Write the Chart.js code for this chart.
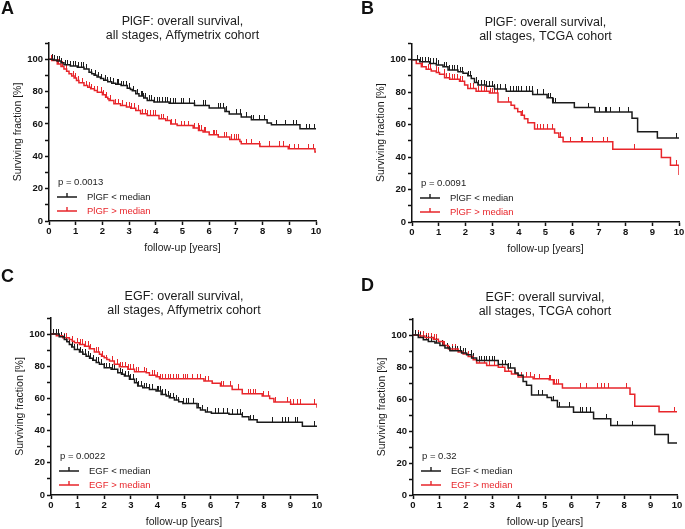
<!DOCTYPE html>
<html>
<head>
<meta charset="utf-8">
<title>PlGF / EGF overall survival</title>
<script src="https://cdn.jsdelivr.net/npm/chart.js@4.4.1/dist/chart.umd.min.js"></script>
<style>
  html, body { margin: 0; padding: 0; background: #fff; }
  #wrap { position: relative; width: 685px; height: 529px; overflow: hidden; }
  #wrap canvas { position: absolute; left: 0; top: 0; }
</style>
</head>
<body>
<div id="wrap">
  <canvas id="panelA" width="685" height="529"></canvas>
  <canvas id="panelB" width="685" height="529"></canvas>
  <canvas id="panelC" width="685" height="529"></canvas>
  <canvas id="panelD" width="685" height="529"></canvas>
</div>
<script>
// Axis tick labels
const xTickLabels = [0, 1, 2, 3, 4, 5, 6, 7, 8, 9, 10];
const yTickLabels = [0, 20, 40, 60, 80, 100];

// Kaplan-Meier steps: [years, surviving %] after each drop
// A: PlGF, Affymetrix cohort
const plgfAffyLow = [[0,100],[0.15,99.5],[0.3,98.8],[0.45,97.8],[0.56,96.5],[0.8,95.8],[1.06,95],[1.31,94],[1.5,92],[1.6,91],[1.69,90],[1.8,89],[1.93,88],[2.05,87],[2.2,86],[2.35,85.2],[2.5,84.5],[2.7,83.7],[2.93,82],[3.05,81.2],[3.12,80.5],[3.25,78.6],[3.37,77.2],[3.55,76],[3.68,74.5],[3.93,73.5],[4.5,72.8],[5.45,71.4],[6.0,69.8],[6.59,67.7],[6.75,66.2],[7.2,64.2],[7.58,62.5],[8.17,60.5],[8.33,59.5],[9.4,57],[10,57]];
const plgfAffyHigh = [[0,100],[0.1,99.2],[0.31,97],[0.45,95.5],[0.56,94],[0.66,92.5],[0.75,91],[0.85,89.6],[0.94,88.3],[1.03,86.8],[1.12,85.4],[1.31,83.7],[1.45,82.6],[1.56,81.7],[1.7,80.6],[1.81,79.6],[2.0,78],[2.12,76.5],[2.2,75.5],[2.25,74.5],[2.43,72.4],[2.68,71.4],[2.9,70.5],[3.06,69.7],[3.25,68.3],[3.43,66.3],[3.68,65.2],[4.12,63.2],[4.37,62.1],[4.56,60],[4.8,59],[5.4,57.4],[5.6,56],[5.77,55],[6.0,53.3],[6.34,51.9],[6.77,50.4],[7.15,49.2],[7.2,47.7],[7.9,46.1],[8.96,44.6],[9.96,42.6],[10,42.6]];
const plgfAffyLowCens = [0.12,0.22,0.3,0.38,0.45,0.6,0.7,0.8,0.9,1.0,1.1,1.2,1.3,1.42,1.6,1.75,1.85,1.95,2.1,2.2,2.3,2.4,2.55,2.6,2.7,2.8,2.9,3.0,3.15,3.3,3.45,3.5,3.55,3.6,3.75,3.85,3.95,4.05,4.15,4.25,4.35,4.45,4.55,4.65,4.75,4.97,5.02,5.27,5.46,5.77,5.87,6.34,6.42,6.52,6.65,7.02,7.17,7.4,7.58,7.67,7.9,8.08,8.52,8.87,9.14,9.27,9.64,9.77,9.96];
const plgfAffyHighCens = [0.1,0.2,0.35,0.5,0.65,0.9,1.0,1.1,1.25,1.4,1.5,1.6,1.7,1.8,1.95,2.05,2.15,2.3,2.5,2.6,2.75,2.9,3.0,3.1,3.2,3.35,3.5,3.6,3.7,3.8,3.9,4.0,4.2,4.3,4.45,4.6,4.75,4.96,5.09,5.21,5.46,5.59,5.65,5.71,5.84,5.87,6.15,6.21,6.27,6.59,6.65,6.84,6.96,7.02,7.09,7.4,7.59,7.9,8.27,8.65,8.77,9.02,9.21,9.33,9.71,9.9];

// B: PlGF, TCGA cohort
const plgfTcgaLow = [[0,100],[0.29,98.8],[0.66,97.7],[0.91,96.7],[1.16,95.7],[1.35,93.6],[1.72,92.6],[1.91,91.6],[2.09,90.1],[2.22,88.5],[2.34,86],[2.47,84.4],[2.78,83.7],[3.09,81.9],[3.53,80.6],[4.52,78.6],[5.06,76.5],[5.27,73.5],[6.08,70.5],[6.85,67.8],[8.24,64],[8.45,55.6],[9.19,51.8],[10,51.8]];
const plgfTcgaHigh = [[0,100],[0.16,97.7],[0.35,95.7],[0.53,94.2],[0.72,93],[0.91,92.2],[1.03,91],[1.22,88.9],[1.41,88],[1.78,86.8],[1.97,84.4],[2.09,82.3],[2.4,80.6],[2.9,79.5],[3.22,74],[3.71,72],[3.84,70],[3.96,68],[4.09,65.8],[4.21,63.7],[4.34,61.2],[4.59,57.3],[5.34,54.8],[5.5,52.3],[5.66,49.5],[7.52,44.8],[9.34,39.8],[9.68,34.9],[10,29]];
const plgfTcgaLowCens = [0.2,0.3,0.4,0.5,0.6,0.7,0.8,0.9,1.0,1.2,1.3,1.4,1.5,1.6,1.7,1.8,1.9,2.1,2.2,2.4,2.5,2.6,2.7,2.8,2.9,3.0,3.1,3.2,3.3,3.5,3.7,3.8,3.9,4.0,4.1,4.3,4.4,4.5,4.7,4.94,5.1,5.19,5.31,5.37,6.6,7.02,7.24,7.28,7.43,7.77,8.09,9.92];
const plgfTcgaHighCens = [0.4,0.6,0.7,0.9,1.0,1.2,1.3,1.4,1.5,1.6,1.7,1.8,1.9,2.2,2.3,2.5,2.6,2.7,2.8,2.95,3.0,3.1,3.2,3.6,4.15,4.6,4.7,4.8,4.91,5.06,5.25,5.56,5.94,6.35,6.4,6.77,7.18,7.34,8.34,9.92];

// C: EGF, Affymetrix cohort
const egfAffyLow = [[0,100],[0.31,98.4],[0.5,96.7],[0.6,95.2],[0.69,93.6],[0.78,92],[0.88,90.5],[1.07,88.8],[1.2,87.5],[1.32,86.3],[1.45,85],[1.57,83.7],[1.7,82.4],[1.82,81.2],[2.0,79.1],[2.26,78.1],[2.51,76],[2.65,75],[2.76,73.9],[2.95,71.9],[3.14,69.8],[3.26,67.7],[3.45,66.7],[3.7,65.6],[3.95,64.6],[4.14,62.5],[4.33,61.5],[4.45,60.4],[4.64,59],[4.8,58],[4.96,56.9],[5.49,54.3],[5.62,52.8],[5.81,51.6],[6.03,50.8],[6.69,50.2],[7.19,48.7],[7.44,46.8],[7.75,45.2],[9.45,42.7],[10,42.7]];
const egfAffyHigh = [[0,100],[0.2,99],[0.44,97.7],[0.69,96.7],[0.8,95.5],[0.88,94.6],[1.07,93.6],[1.26,92.5],[1.44,90.9],[1.63,88.8],[1.82,87.4],[1.9,86.3],[2.0,85.3],[2.1,84.2],[2.2,83.2],[2.38,81.2],[2.57,79.7],[2.89,78.1],[3.14,76.6],[3.58,76],[3.7,74.4],[3.95,73.5],[4.08,72.3],[5.75,70.9],[6.06,69.4],[6.37,67.8],[6.81,65.6],[7.19,63],[7.94,61.5],[8.22,59.9],[8.38,57.8],[9.01,56.4],[10,54.3]];
const egfAffyLowCens = [0.1,0.2,0.3,0.4,0.5,0.6,0.7,0.8,0.9,1.0,1.1,1.2,1.3,1.4,1.5,1.6,1.7,1.8,1.9,2.0,2.1,2.2,2.3,2.4,2.6,2.7,2.8,2.9,3.0,3.1,3.2,3.3,3.4,3.5,3.6,3.7,3.8,4.0,4.05,4.1,4.2,4.3,4.4,4.5,4.6,4.7,4.8,4.99,5.08,5.18,5.37,5.56,5.68,5.87,6.18,6.31,6.5,6.62,6.81,7.0,7.13,7.19,7.5,7.63,8.32,8.69,8.82,8.94,9.2,9.26,9.89,10];
const egfAffyHighCens = [0.1,0.3,0.5,0.6,0.8,1.0,1.1,1.2,1.3,1.4,1.5,1.7,1.8,1.95,2.1,2.3,2.5,2.6,2.7,2.8,2.9,3.0,3.1,3.2,3.3,3.5,3.6,3.8,3.9,4.0,4.1,4.2,4.3,4.4,4.5,4.6,4.7,4.8,4.99,5.06,5.12,5.31,5.49,5.62,5.81,5.93,6.41,6.5,6.75,7.06,7.44,7.5,7.63,7.69,8.0,8.19,8.44,8.88,9.01,9.13,9.26,9.38,9.9];

// D: EGF, TCGA cohort
const egfTcgaLow = [[0,100],[0.2,98.5],[0.39,97.1],[0.58,96],[0.83,95],[1.02,93.5],[1.21,91.9],[1.4,90.2],[1.84,88.8],[2.03,87.7],[2.22,85.6],[2.41,84],[3.23,81.5],[3.6,79.4],[3.86,76.3],[3.98,74.8],[4.17,71],[4.3,68.6],[4.49,62.5],[5.08,61],[5.25,59],[5.47,55],[6.08,51.7],[6.84,47.7],[7.49,43.4],[9.16,37.8],[9.67,32.5],[10,32.5]];
const egfTcgaHigh = [[0,100],[0.26,99.4],[0.45,98.4],[0.77,97.4],[0.96,95.9],[1.15,93.4],[1.34,91.3],[1.71,89.4],[1.9,88.1],[2.09,86.6],[2.28,84.6],[2.41,82.5],[2.79,81],[3.23,79.8],[3.48,77.3],[3.73,75.6],[3.98,73.8],[4.55,72.6],[5.16,72],[5.32,69.4],[5.66,66.9],[8.22,63],[8.4,55.5],[9.32,52],[10,52]];
const egfTcgaLowCens = [0.1,0.2,0.3,0.4,0.5,0.6,0.7,0.9,1.1,1.3,1.4,1.5,1.6,1.7,1.8,1.9,2.0,2.2,2.3,2.5,2.6,2.7,2.8,2.9,3.0,3.1,3.4,3.5,3.6,3.7,4.74,4.9,5.32,5.54,5.92,6.33,6.42,6.58,6.74,7.34,7.74,8.31];
const egfTcgaHighCens = [0.1,0.2,0.3,0.4,0.5,0.6,0.7,0.8,0.9,1.2,1.5,1.6,1.8,2.1,2.3,2.5,2.7,2.9,3.1,3.4,3.6,3.9,4.1,4.3,4.45,4.6,4.8,5.16,5.22,5.37,5.45,5.5,6.33,6.57,6.99,7.15,7.24,7.4,8.08,9.91];

const BLACK = '#1b1b1b';
const RED = '#e8262b';
const FONT = '"Liberation Sans", Arial, sans-serif';

Chart.defaults.font.family = FONT;
Chart.defaults.color = '#111';

// survival value at time t (last step at or before t)
function survivalAt(steps, t) {
    let s = steps[0][1];
    for (const [x, y] of steps) {
        if (x <= t) s = y; else break;
    }
    return s;
}

// censor mark: short vertical tick pointing up from the curve
function censorMark(color) {
    const c = document.createElement('canvas');
    c.width = 1;
    c.height = 10;
    const g = c.getContext('2d');
    g.fillStyle = color;
    g.fillRect(0, 0, 1, 5);
    return c;
}
const tickBlack = censorMark(BLACK);
const tickRed = censorMark(RED);

// panel letter, p value and legend drawn inside the plot
const kmAnnot = {
    id: 'kmAnnot',
    afterDraw(chart, args, opts) {
        const { ctx, chartArea: a } = chart;
        ctx.save();
        ctx.textBaseline = 'middle';
        ctx.textAlign = 'left';
        ctx.fillStyle = '#111';
        ctx.font = 'bold 18px ' + FONT;
        ctx.fillText(opts.letter, opts.letterX, opts.letterY);

        ctx.font = '9.5px ' + FONT;
        ctx.fillStyle = '#222';
        ctx.fillText(opts.pText, a.left + 9, a.bottom - 39);

        chart.data.datasets.slice(0, 2).forEach((ds, i) => {
            const y = a.bottom - 24 + i * 14;
            ctx.strokeStyle = ds.borderColor;
            ctx.lineWidth = 1.4;
            ctx.beginPath();
            ctx.moveTo(a.left + 8, y);
            ctx.lineTo(a.left + 28, y);
            ctx.moveTo(a.left + 18, y);
            ctx.lineTo(a.left + 18, y - 4);
            ctx.stroke();
            ctx.fillStyle = ds.borderColor;
            ctx.fillText(ds.label, a.left + 38, y);
        });
        ctx.restore();
    }
};

function buildPanel(id, p) {
    const curve = (steps, color, label) => ({
        label: label,
        data: steps.map(([x, y]) => ({ x, y })),
        borderColor: color,
        borderWidth: 1.5,
        stepped: true,
        pointRadius: 0,
        fill: false
    });
    const marks = (times, steps, color, img) => ({
        data: times.map(t => ({ x: t, y: survivalAt(steps, t) })),
        borderColor: color,
        showLine: false,
        pointStyle: img,
        pointRadius: 2
    });

    return new Chart(document.getElementById(id), {
        type: 'line',
        data: {
            datasets: [
                curve(p.low, BLACK, p.labels[0]),
                curve(p.high, RED, p.labels[1]),
                marks(p.lowCens, p.low, BLACK, tickBlack),
                marks(p.highCens, p.high, RED, tickRed)
            ]
        },
        options: {
            responsive: false,
            animation: false,
            events: [],
            layout: {
                padding: { left: p.left - 49, right: 685 - p.right, top: p.padTop, bottom: 529 - p.bottom - 40 }
            },
            plugins: {
                legend: { display: false },
                tooltip: { enabled: false },
                title: {
                    display: true,
                    fullSize: false,
                    text: p.title,
                    color: '#1a1a1a',
                    font: { size: 12.5, weight: 'normal', lineHeight: 1.12 },
                    padding: { top: p.titleTop, bottom: 0 }
                },
                kmAnnot: { letter: p.letter, letterX: p.letterX, letterY: p.letterY, pText: p.pText }
            },
            scales: {
                x: {
                    type: 'linear',
                    min: 0,
                    max: 10,
                    afterFit: s => { s.height = 40; s.paddingLeft = 0; s.paddingRight = 0; },
                    afterBuildTicks: s => { s.ticks = xTickLabels.map(v => ({ value: v })); },
                    border: { display: true, color: '#111', width: 1.5 },
                    grid: { display: true, drawOnChartArea: false, tickLength: 4, tickWidth: 1.5, tickColor: '#111' },
                    ticks: { font: { size: 9.5, weight: 'bold' }, color: '#111', padding: 1, maxRotation: 0 },
                    title: { display: true, text: 'follow-up [years]', color: '#1a1a1a', font: { size: 10.5 }, padding: { top: 0, bottom: 7 } }
                },
                y: {
                    min: 0,
                    max: 110,
                    afterFit: s => { s.width = 49; s.paddingTop = 0; s.paddingBottom = 0; },
                    border: { display: true, color: '#111', width: 1.5 },
                    grid: { display: true, drawOnChartArea: false, tickLength: 4, tickWidth: 1.5, tickColor: '#111' },
                    ticks: {
                        stepSize: 10,
                        font: { size: 9.5, weight: 'bold' },
                        color: '#111',
                        padding: 2,
                        callback: v => yTickLabels.includes(v) ? v : ''
                    },
                    title: { display: true, text: 'Surviving fraction [%]', color: '#1a1a1a', font: { size: 10.5 }, padding: { top: 12, bottom: 0 } }
                }
            }
        },
        plugins: [kmAnnot]
    });
}

buildPanel('panelA', {
    low: plgfAffyLow, high: plgfAffyHigh, lowCens: plgfAffyLowCens, highCens: plgfAffyHighCens,
    labels: ['PlGF < median', 'PlGF > median'],
    title: ['PlGF: overall survival,', 'all stages, Affymetrix cohort'],
    pText: 'p = 0.0013',
    letter: 'A', letterX: 1, letterY: 9,
    left: 49, right: 316, bottom: 221, padTop: 0, titleTop: 15
});
buildPanel('panelB', {
    low: plgfTcgaLow, high: plgfTcgaHigh, lowCens: plgfTcgaLowCens, highCens: plgfTcgaHighCens,
    labels: ['PlGF < median', 'PlGF > median'],
    title: ['PlGF: overall survival,', 'all stages, TCGA cohort'],
    pText: 'p = 0.0091',
    letter: 'B', letterX: 361, letterY: 9,
    left: 412, right: 679, bottom: 222, padTop: 0, titleTop: 15.5
});
buildPanel('panelC', {
    low: egfAffyLow, high: egfAffyHigh, lowCens: egfAffyLowCens, highCens: egfAffyHighCens,
    labels: ['EGF < median', 'EGF > median'],
    title: ['EGF: overall survival,', 'all stages, Affymetrix cohort'],
    pText: 'p = 0.0022',
    letter: 'C', letterX: 1, letterY: 277,
    left: 51, right: 317, bottom: 495, padTop: 265, titleTop: 25
});
buildPanel('panelD', {
    low: egfTcgaLow, high: egfTcgaHigh, lowCens: egfTcgaLowCens, highCens: egfTcgaHighCens,
    labels: ['EGF < median', 'EGF > median'],
    title: ['EGF: overall survival,', 'all stages, TCGA cohort'],
    pText: 'p = 0.32',
    letter: 'D', letterX: 361, letterY: 286,
    left: 413, right: 677, bottom: 495, padTop: 265, titleTop: 26
});
</script>
</body>
</html>
